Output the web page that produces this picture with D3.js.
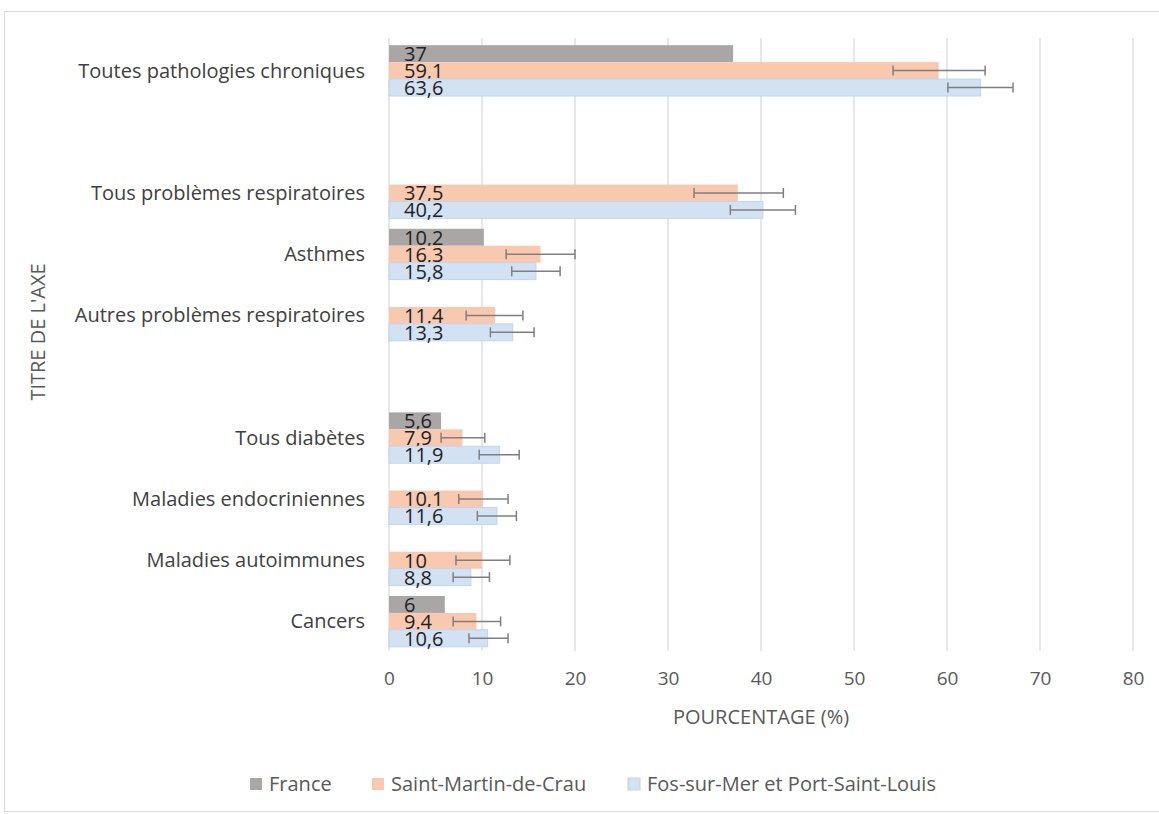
<!DOCTYPE html>
<html>
<head>
<meta charset="utf-8">
<title>Pathologies chroniques</title>
<style>
  body { margin: 0; background: #fff; }
  text { font-family: "Open Sans", sans-serif; }
</style>
</head>
<body>
<div id="chart"></div>
<script src="https://d3js.org/d3.v7.min.js"></script>
<script>
(function(d3) {
  'use strict';

  // empty strings are the blank spacer categories of the original sheet
  var categories = ['Toutes pathologies chroniques', '', 'Tous problèmes respiratoires', 'Asthmes',
    'Autres problèmes respiratoires', '', 'Tous diabètes ', 'Maladies endocriniennes',
    'Maladies autoimmunes', 'Cancers'];
  var seriesNames = ['France', 'Saint-Martin-de-Crau', 'Fos-sur-Mer et Port-Saint-Louis'];

  var france = [37, null, null, 10.2, null, null, 5.6, null, null, 6];
  var smc = [59.1, null, 37.5, 16.3, 11.4, null, 7.9, 10.1, 10, 9.4];
  var fos = [63.6, null, 40.2, 15.8, 13.3, null, 11.9, 11.6, 8.8, 10.6];

  var smcLow = [54.2, null, 32.8, 12.6, 8.3, null, 5.6, 7.5, 7.2, 6.9];
  var smcHigh = [64.1, null, 42.4, 20.0, 14.4, null, 10.3, 12.8, 13.0, 12.0];
  var fosLow = [60.1, null, 36.7, 13.2, 10.9, null, 9.7, 9.5, 6.9, 8.6];
  var fosHigh = [67.1, null, 43.7, 18.4, 15.6, null, 14.0, 13.7, 10.8, 12.8];

  var xTicks = [0, 10, 20, 30, 40, 50, 60, 70, 80];

  var colors = ['#aaa6a5', '#f8c9ae', '#d3e2f3'];

  var width = 1159, height = 814;
  var margin = { left: 389, right: 26, top: 40, bottom: 162 };

  var svg = d3.select('#chart').append('svg')
    .attr('width', width)
    .attr('height', height);

  svg.append('rect')
    .attr('x', 4.5).attr('y', 11.5)
    .attr('width', width + 20).attr('height', 800)
    .attr('fill', '#fff')
    .attr('stroke', '#d9d9d9');

  var x = d3.scaleLinear()
    .domain([0, 80])
    .range([margin.left, width - margin.right]);

  var y = d3.scaleBand()
    .domain(d3.range(categories.length))
    .range([margin.top, height - margin.bottom])
    .paddingInner(0.17)
    .paddingOuter(0.085);

  var sub = d3.scaleBand()
    .domain([0, 1, 2])
    .range([0, y.bandwidth()]);

  // grid
  svg.append('g').selectAll('line')
    .data(xTicks)
    .enter().append('line')
    .attr('x1', function(d) { return x(d); })
    .attr('x2', function(d) { return x(d); })
    .attr('y1', 38)
    .attr('y2', 651)
    .attr('stroke', '#d9d9d9')
    .attr('stroke-width', 1.2);

  // x axis labels
  var xAxis = d3.axisBottom(x).tickValues(xTicks).tickSize(0).tickPadding(0);
  var gx = svg.append('g')
    .attr('transform', 'translate(0,' + 671 + ')')
    .call(xAxis);
  gx.select('.domain').remove();
  gx.selectAll('text')
    .attr('font-family', '"Open Sans", sans-serif')
    .attr('font-size', 19)
    .attr('fill', '#595959');

  // category labels
  svg.append('g').selectAll('text')
    .data(categories)
    .enter().append('text')
    .attr('x', 365)
    .attr('y', function(d, i) { return y(i) + y.bandwidth() / 2; })
    .attr('dy', '0.35em')
    .attr('text-anchor', 'end')
    .attr('font-size', 20)
    .attr('fill', '#404040')
    .text(function(d) { return d; });

  var series = [france, smc, fos];
  var lows = [null, smcLow, fosLow];
  var highs = [null, smcHigh, fosHigh];

  series.forEach(function(vals, s) {
    var g = svg.append('g');
    var rows = vals.map(function(v, i) { return { i: i, v: v }; })
      .filter(function(d) { return d.v !== null; });

    g.selectAll('rect')
      .data(rows)
      .enter().append('rect')
      .attr('x', x(0))
      .attr('y', function(d) { return y(d.i) + sub(s); })
      .attr('width', function(d) { return x(d.v) - x(0); })
      .attr('height', sub.bandwidth())
      .attr('fill', colors[s])
      .attr('stroke', s === 2 ? '#bfd4ee' : 'none')
      .attr('stroke-width', 1);

    if (lows[s]) {
      var eb = g.selectAll('.err')
        .data(rows)
        .enter().append('g')
        .attr('stroke', '#7f7f7f')
        .attr('stroke-width', 1.5);
      var cy = function(d) { return y(d.i) + sub(s) + sub.bandwidth() / 2; };
      eb.append('line')
        .attr('x1', function(d) { return x(lows[s][d.i]); })
        .attr('x2', function(d) { return x(highs[s][d.i]); })
        .attr('y1', cy).attr('y2', cy);
      [lows[s], highs[s]].forEach(function(arr) {
        eb.append('line')
          .attr('x1', function(d) { return x(arr[d.i]); })
          .attr('x2', function(d) { return x(arr[d.i]); })
          .attr('y1', function(d) { return cy(d) - 5; })
          .attr('y2', function(d) { return cy(d) + 5; });
      });
    }

    g.selectAll('.lbl')
      .data(rows)
      .enter().append('text')
      .attr('x', x(0) + 15)
      .attr('y', function(d) { return y(d.i) + sub(s) + sub.bandwidth() / 2; })
      .attr('dy', '0.37em')
      .attr('font-size', 20)
      .attr('fill', '#222')
      .text(function(d) { return String(d.v).replace('.', ','); });
  });

  // axis titles
  svg.append('text')
    .attr('x', x(40))
    .attr('y', 724)
    .attr('text-anchor', 'middle')
    .attr('font-size', 20)
    .attr('fill', '#595959')
    .text('POURCENTAGE (%)');

  svg.append('text')
    .attr('transform', 'translate(45,' + 332 + ') rotate(-90)')
    .attr('text-anchor', 'middle')
    .attr('font-size', 20)
    .attr('fill', '#595959')
    .text("TITRE DE L'AXE");

  // legend
  var legendX = [250, 372, 628];
  var legend = svg.append('g');
  seriesNames.forEach(function(name, s) {
    legend.append('rect')
      .attr('x', legendX[s]).attr('y', 778)
      .attr('width', 12).attr('height', 12)
      .attr('fill', colors[s])
      .attr('stroke', s === 2 ? '#bfd4ee' : 'none');
    legend.append('text')
      .attr('x', legendX[s] + 19)
      .attr('y', 784)
      .attr('dy', '0.35em')
      .attr('font-size', 20)
      .attr('fill', '#595959')
      .text(name);
  });

})(window.d3);
</script>
</body>
</html>
